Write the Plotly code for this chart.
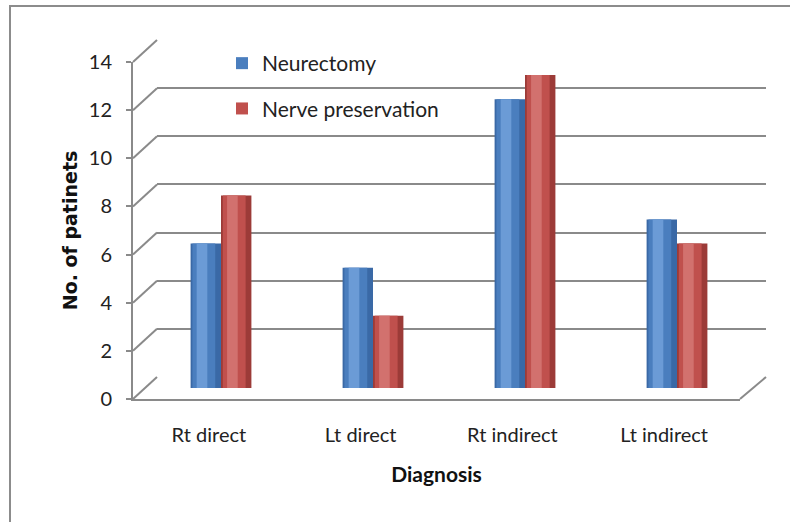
import plotly.graph_objects as go

# ---- data ----
categories = ["Rt direct", "Lt direct", "Rt indirect", "Lt indirect"]
neurectomy = [6, 5, 12, 7]
nerve_preservation = [8, 3, 13, 6]
y_ticks = [0, 2, 4, 6, 8, 10, 12, 14]

W, H = 790, 522
px = lambda x: x / W
py = lambda y: 1 - y / H

GRID = "#8a8a8a"
FONT = "Lato"

# plane geometry (pixel positions of the pseudo-3D frame)
front_x = (133, 740); front_y = (399, 62)
mid_x = (145, 753);   mid_y = (388, 51)
back_x = (157, 766);  back_y = (377, 40)
YMAX = 14

fig = go.Figure()

# back wall subplot (x, y): only gridlines
fig.add_trace(go.Scatter(x=[], y=[], xaxis="x", yaxis="y", showlegend=False))

# bars on the middle plane (x2, y2), layered to fake a cylinder shading
series = [
    ("Neurectomy", neurectomy, -0.2, ["#3a69a6", "#4a7ebe", "#6b9bd6"]),
    ("Nerve preservation", nerve_preservation, 0.0, ["#9c3b38", "#c0504d", "#d2716e"]),
]
for name, vals, off, cols in series:
    layers = [(off, 0.2, cols[0], False),
              (off + 0.012, 0.15, cols[1], True),
              (off + 0.04, 0.07, cols[2], False)]
    for o, w, c, leg in layers:
        fig.add_trace(go.Bar(
            x=categories, y=vals, name=name, xaxis="x2", yaxis="y2",
            offset=o, width=w, marker=dict(color=c, line=dict(width=0)),
            showlegend=leg, legendgroup=name, hoverinfo="skip" if not leg else None,
        ))

# front plane (x3, y3): axes, ticks, labels
fig.add_trace(go.Scatter(x=[], y=[], xaxis="x3", yaxis="y3", showlegend=False))

fig.update_layout(
    width=W, height=H, margin=dict(l=0, r=0, t=0, b=0, autoexpand=False),
    paper_bgcolor="white", plot_bgcolor="rgba(0,0,0,0)",
    barmode="overlay",
    font=dict(family=FONT, color="#222", size=20),
    showlegend=True,
    legend=dict(x=px(222), y=py(43), xanchor="left", yanchor="top",
                bgcolor="rgba(0,0,0,0)", font=dict(size=21, family=FONT),
                traceorder="grouped", tracegroupgap=15, itemwidth=30),
    xaxis=dict(domain=[px(back_x[0]), px(back_x[1])], anchor="y", type="category",
               categoryorder="array", categoryarray=categories, range=[-0.5, 3.5],
               showgrid=False, showticklabels=False, zeroline=False, showline=False,
               automargin=False),
    yaxis=dict(domain=[py(back_y[0]), py(back_y[1])], anchor="x", range=[0, YMAX],
               tickvals=y_ticks, showgrid=True, gridcolor=GRID, gridwidth=2,
               showticklabels=False, zeroline=False, showline=False, automargin=False),
    xaxis2=dict(domain=[px(mid_x[0]), px(mid_x[1])], anchor="y2", type="category",
                categoryorder="array", categoryarray=categories, range=[-0.5, 3.5],
                showgrid=False, showticklabels=False, zeroline=False, showline=False,
                automargin=False),
    yaxis2=dict(domain=[py(mid_y[0]), py(mid_y[1])], anchor="x2", range=[0, YMAX],
                showgrid=False, showticklabels=False, zeroline=False, showline=False,
                automargin=False),
    xaxis3=dict(domain=[px(front_x[0]), px(front_x[1])], anchor="y3", type="category",
                categoryorder="array", categoryarray=categories, range=[-0.5, 3.5],
                showgrid=False, zeroline=False, showline=True, linecolor=GRID, linewidth=2,
                ticks="", ticklabelstandoff=17, automargin=False,
                tickfont=dict(size=20, family=FONT, color="#222"),
                title=dict(text="<b>Diagnosis</b>", standoff=22,
                           font=dict(size=21, family=FONT, color="#111"))),
    yaxis3=dict(domain=[py(front_y[0]), py(front_y[1])], anchor="x3", range=[0, YMAX],
                tickvals=y_ticks, showgrid=False, zeroline=False, showline=True,
                linecolor=GRID, linewidth=2, ticks="outside", ticklen=5,
                tickcolor=GRID, tickwidth=2, ticklabelstandoff=10, automargin=False,
                tickfont=dict(size=20, family=FONT, color="#222"),
                title=dict(text="<b>No. of patinets</b>", standoff=6,
                           font=dict(size=19, family="DejaVu Sans", color="#111"))),
)

shapes = []
# diagonal connectors from front axis ticks to back wall gridlines
for v in y_ticks:
    yf = py(front_y[0]) + v / YMAX * (py(front_y[1]) - py(front_y[0]))
    yb = py(back_y[0]) + v / YMAX * (py(back_y[1]) - py(back_y[0]))
    shapes.append(dict(type="line", xref="paper", yref="paper",
                       x0=px(front_x[0]), y0=yf, x1=px(back_x[0]), y1=yb,
                       line=dict(color=GRID, width=2)))
# right floor edge
shapes.append(dict(type="line", xref="paper", yref="paper",
                   x0=px(front_x[1]), y0=py(front_y[0]), x1=px(back_x[1]), y1=py(back_y[0]),
                   line=dict(color=GRID, width=2)))
# outer chart border
shapes.append(dict(type="rect", xref="paper", yref="paper",
                   x0=px(10), y0=-0.05, x1=1.05, y1=py(6),
                   line=dict(color="#8c8c8c", width=2), fillcolor="rgba(0,0,0,0)"))
fig.update_layout(shapes=shapes)

fig.write_html(
    "out.html",
    config={"displayModeBar": False},
    post_script="document.body.style.margin='0';document.body.style.overflow='hidden';",
)
